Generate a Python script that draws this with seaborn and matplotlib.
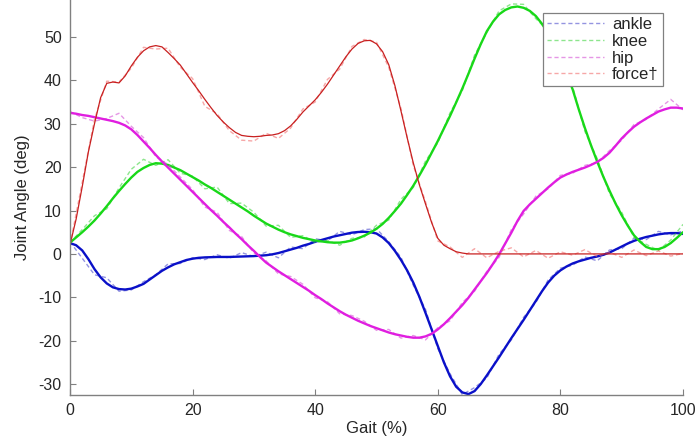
import matplotlib
matplotlib.use("Agg")
import matplotlib.pyplot as plt
import pandas as pd
import seaborn as sns

# Gait cycle positions (%) for the fitted curves and the measured traces
gait_fit = list(range(0, 101))
gait_meas = list(range(0, 101, 2))

# Fitted joint-angle curves (deg)
ankle_fit = [2.5, 2.0, 0.8, -1.2, -3.5, -5.4, -6.8, -7.7, -8.1, -8.2,
             -8.0, -7.5, -6.9, -5.9, -4.9, -3.9, -3.1, -2.4, -1.9, -1.4,
             -1.1, -0.9, -0.8, -0.75, -0.7, -0.7, -0.7, -0.65, -0.6, -0.55,
             -0.5, -0.4, -0.3, -0.1, 0.2, 0.6, 1.0, 1.4, 1.9, 2.3,
             2.8, 3.2, 3.6, 4.0, 4.3, 4.6, 4.9, 5.05, 5.1, 5.0,
             4.7, 3.8, 2.5, 0.7, -1.4, -3.8, -6.6, -9.9, -13.6, -17.4,
             -21.2, -25.0, -28.2, -30.6, -31.9, -32.3, -31.6, -30.0, -28.0, -25.9,
             -23.8, -21.6, -19.4, -17.3, -15.2, -13.0, -10.8, -8.6, -6.6, -5.0,
             -3.8, -2.9, -2.2, -1.7, -1.3, -0.9, -0.6, -0.2, 0.3, 1.0,
             1.7, 2.4, 3.0, 3.5, 3.9, 4.2, 4.5, 4.7, 4.8, 4.8,
             4.6]
knee_fit = [2.6, 3.8, 5.0, 6.3, 7.7, 9.3, 11.0, 12.8, 14.5, 16.1,
            17.6, 18.9, 19.8, 20.5, 20.9, 20.8, 20.5, 19.9, 19.3, 18.5,
            17.7, 16.9, 16.0, 15.2, 14.3, 13.4, 12.5, 11.6, 10.7, 9.8,
            8.8, 7.9, 7.0, 6.3, 5.6, 5.0, 4.5, 4.1, 3.7, 3.4,
            3.1, 2.9, 2.7, 2.6, 2.6, 2.8, 3.1, 3.6, 4.2, 4.9,
            5.8, 6.9, 8.3, 9.9, 11.6, 13.6, 15.7, 18.1, 20.6, 23.3,
            26.0, 28.9, 31.8, 34.9, 38.1, 41.5, 45.0, 48.3, 51.3, 53.5,
            55.2, 56.2, 56.8, 57.0, 56.7, 56.0, 54.8, 53.0, 50.8, 48.0,
            45.0, 41.6, 37.9, 33.3, 29.0, 25.0, 21.3, 17.8, 14.6, 11.6,
            8.9, 6.5, 4.3, 2.8, 1.6, 1.1, 1.1, 1.6, 2.5, 3.7,
            5.0]
hip_fit = [32.5, 32.3, 32.0, 31.8, 31.5, 31.2, 30.9, 30.6, 30.2, 29.6,
           28.7, 27.4, 25.9, 24.4, 22.8, 21.3, 19.9, 18.5, 17.1, 15.7,
           14.3, 12.9, 11.5, 10.1, 8.8, 7.4, 6.1, 4.7, 3.4, 2.0,
           0.7, -0.7, -2.0, -3.0, -4.0, -4.9, -5.8, -6.7, -7.6, -8.5,
           -9.5, -10.4, -11.4, -12.3, -13.2, -14.0, -14.7, -15.4, -16.0, -16.6,
           -17.1, -17.6, -18.1, -18.5, -18.8, -19.1, -19.3, -19.3, -19.0, -18.4,
           -17.4, -16.2, -14.8, -13.3, -11.8, -10.1, -8.2, -6.3, -4.4, -2.3,
           -0.1, 2.4, 4.9, 7.6, 9.9, 11.4, 12.7, 14.0, 15.3, 16.5,
           17.6, 18.3, 18.9, 19.4, 19.9, 20.5, 21.2, 22.1, 23.3, 24.9,
           26.6, 28.0, 29.3, 30.3, 31.2, 32.0, 32.8, 33.3, 33.7, 33.7,
           33.5]
force_fit = [2.1, 8.0, 15.5, 23.5, 30.0, 36.0, 39.3, 39.6, 39.4, 41.0,
             43.3, 45.3, 46.8, 47.7, 48.0, 47.7, 46.4, 45.0, 43.5, 41.5,
             39.5, 37.6, 35.6, 33.7, 31.9, 30.4, 29.1, 28.0, 27.3, 27.1,
             27.0, 27.1, 27.3, 27.4, 27.7, 28.4, 29.5, 31.0, 32.7, 34.1,
             35.5, 37.2, 39.1, 41.2, 43.3, 45.4, 47.2, 48.5, 49.1, 49.2,
             48.4, 46.6, 43.6, 38.8, 32.9, 26.8, 21.0, 15.9, 11.5, 7.2,
             3.6, 2.0, 1.2, 0.5, 0.2, 0.0, 0.0, 0.0, 0.0, 0.0,
             0.0, 0.0, 0.0, 0.0, 0.0, 0.0, 0.0, 0.0, 0.0, 0.0,
             0.0, 0.0, 0.0, 0.0, 0.0, 0.0, 0.0, 0.0, 0.0, 0.0,
             0.0, 0.0, 0.0, 0.0, 0.0, 0.0, 0.0, 0.0, 0.0, 0.0,
             0.0]

# Measured joint-angle traces (deg)
ankle_meas = [2.8, -1.0, -4.8, -5.5, -8.6, -8.3, -6.4, -4.8, -2.3, -2.2, -0.9,
              -1.3, -0.2, -1.0, 0.3, -0.6, 0.4, -0.9, 1.6, 1.2, 3.5,
              3.0, 5.2, 4.4, 5.6, 5.8, 2.8, -0.8, -7.2, -12.8, -21.8,
              -27.6, -32.4, -30.8, -28.6, -23.1, -19.8, -14.6, -11.2, -6.0, -3.3,
              -2.6, -0.7, -1.6, 0.9, 1.2, 3.6, 3.3, 5.2, 4.4, 5.3]
knee_meas = [2.6, 5.6, 8.8, 10.4, 15.2, 19.5, 21.8, 20.4, 21.7, 18.6, 17.9,
             15.0, 15.4, 11.6, 11.7, 9.6, 6.4, 6.6, 3.8, 4.2, 2.6,
             3.1, 2.0, 3.6, 3.9, 6.6, 7.8, 12.6, 15.3, 21.4, 25.6,
             32.5, 37.6, 45.8, 51.0, 56.0, 57.6, 57.5, 54.2, 51.4, 44.0,
             38.6, 28.2, 22.0, 13.9, 9.6, 3.8, 2.2, 0.8, 3.2, 6.8]
hip_meas = [32.8, 31.4, 30.6, 31.2, 32.4, 29.4, 26.8, 22.4, 20.6, 17.7, 14.8,
            10.8, 9.6, 5.4, 4.0, 0.2, -1.6, -4.6, -5.2, -7.0, -10.1,
            -11.0, -13.8, -14.2, -15.5, -17.6, -17.4, -19.4, -18.8, -19.8, -17.0,
            -15.4, -11.2, -8.6, -4.0, -0.8, 5.6, 9.2, 13.3, 15.0, 18.1,
            18.6, 20.4, 21.0, 23.8, 26.2, 29.8, 31.0, 33.4, 35.6, 33.2]
force_meas = [2.0, 16.5, 31.0, 39.8, 39.6, 42.8, 47.6, 47.2, 47.4, 43.0, 40.4,
              34.0, 32.3, 28.4, 26.2, 26.0, 27.8, 26.6, 29.0, 33.4, 35.0,
              40.2, 42.6, 47.8, 49.4, 48.8, 43.0, 33.5, 20.4, 12.0, 3.0,
              1.6, -0.8, 1.2, -0.9, 0.6, 1.4, -0.7, 0.8, -1.0, 0.5,
              -0.3, 1.0, -0.6, 0.4, -0.8, 0.9, -0.4, 0.7, -0.5, 0.1]

series_names = ["ankle", "knee", "hip", "force\u2020"]
fit_colors = ["#0a10c8", "#18d818", "#e01ee0", "#c82020"]
meas_colors = ["#3c3cc8", "#30d030", "#d040d0", "#f06060"]
fit_widths = [1.7, 1.7, 1.7, 0.9]

sns.set_style("ticks")
plt.rcParams["font.family"] = ["Liberation Sans", "DejaVu Sans"]
plt.rcParams["axes.unicode_minus"] = False

fig = plt.figure(figsize=(6.97, 4.44), dpi=100)
ax = fig.add_axes([0.1004, 0.1104, 0.8795, 0.8896])

fits = [ankle_fit, knee_fit, hip_fit, force_fit]
meas = [ankle_meas, knee_meas, hip_meas, force_meas]

handles = []
for name, f, m, fc, mc, lw in zip(series_names, fits, meas, fit_colors,
                                  meas_colors, fit_widths):
    df_meas = pd.DataFrame({"gait": gait_meas, "angle": m})
    df_fit = pd.DataFrame({"gait": gait_fit, "angle": f})
    sns.lineplot(data=df_meas, x="gait", y="angle", ax=ax, color=mc, lw=1.0,
                 alpha=0.55, linestyle=(0, (3, 2)), legend=False)
    handles.append(ax.lines[-1])
    sns.lineplot(data=df_fit, x="gait", y="angle", ax=ax, color=fc, lw=lw,
                 legend=False)

ax.set_xlim(0, 100)
ax.set_ylim(-32.5, 58.5)
ax.set_xticks(range(0, 101, 20))
ax.set_yticks(range(-30, 51, 10))
ax.set_xlabel("Gait (%)", fontsize=12, color="#262626", labelpad=2)
ax.set_ylabel("Joint Angle (deg)", fontsize=12, color="#262626", labelpad=6)

for side in ("top", "right"):
    ax.spines[side].set_visible(False)
for side in ("left", "bottom"):
    ax.spines[side].set_color("#808080")
    ax.spines[side].set_linewidth(1.0)
ax.tick_params(direction="in", length=4, width=0.8, color="#808080",
               labelsize=11.5, labelcolor="#262626", pad=6)

leg = ax.legend(handles, series_names, loc="upper right",
                bbox_to_anchor=(0.967, 0.967), fontsize=12,
                handlelength=3.4, handletextpad=0.5, borderpad=0.25,
                labelspacing=0.1, fancybox=False, framealpha=1.0,
                edgecolor="#808080", borderaxespad=0)
leg.get_frame().set_linewidth(0.9)

fig.savefig("out.png", dpi=100)
